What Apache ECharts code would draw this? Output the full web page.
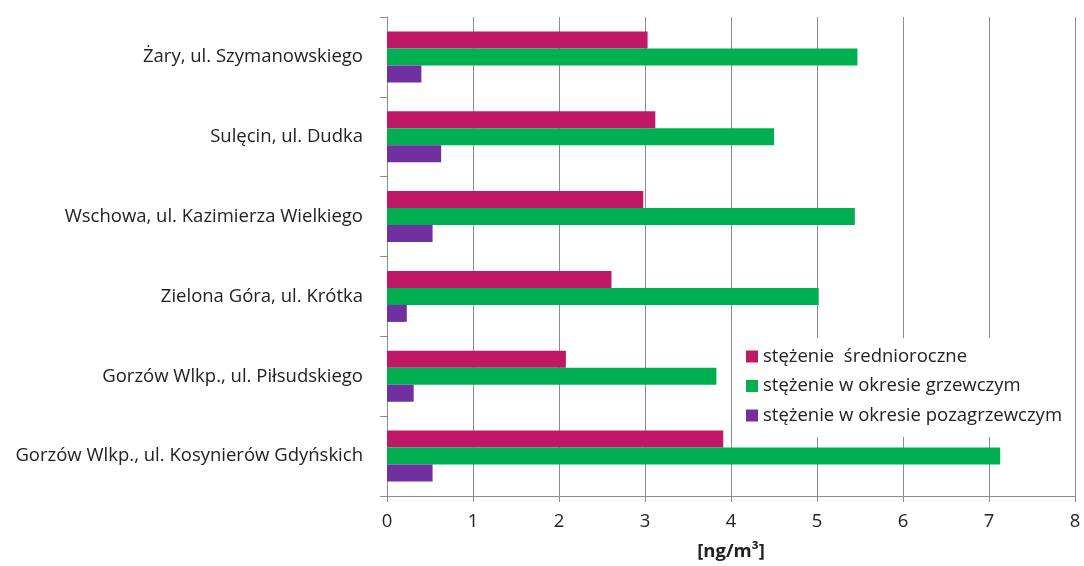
<!DOCTYPE html>
<html><head><meta charset="utf-8">
<script src="https://cdn.jsdelivr.net/npm/echarts@6/dist/echarts.min.js"></script>
<style>html,body{margin:0;padding:0;background:#fff}#c{width:1084px;height:566px}</style>
</head><body><div id="c"></div>
<script>
const categories = [
  'Gorzów Wlkp., ul. Kosynierów Gdyńskich',
  'Gorzów Wlkp., ul. Piłsudskiego',
  'Zielona Góra, ul. Krótka',
  'Wschowa, ul. Kazimierza Wielkiego',
  'Sulęcin, ul. Dudka',
  'Żary, ul. Szymanowskiego'
];
const seriesNames = ['stężenie  średnioroczne', 'stężenie w okresie grzewczym', 'stężenie w okresie pozagrzewczym'];
const annual = [3.91, 2.08, 2.61, 2.98, 3.12, 3.03];
const heating = [7.13, 3.83, 5.02, 5.44, 4.50, 5.47];
const nonHeating = [0.53, 0.31, 0.23, 0.53, 0.63, 0.40];
const xTicks = [0, 1, 2, 3, 4, 5, 6, 7, 8];
const colors = ['#BE1867', '#00B050', '#7030A0'];

const FONT = '"Open Sans", sans-serif';
const FS = 18.5;
const chart = echarts.init(document.getElementById('c'));
const values = [annual, heating, nonHeating];
chart.setOption({
  animation: false,
  textStyle: { fontFamily: FONT },
  grid: { left: 387, right: 1084 - 1075, top: 17, bottom: 566 - 496, containLabel: false },
  legend: {
    data: seriesNames,
    orient: 'vertical',
    left: 734, top: 338,
    itemWidth: 12, itemHeight: 12, itemGap: 10.5,
    icon: 'rect',
    backgroundColor: '#fff',
    padding: [9, 8, 12, 12],
    textStyle: { fontSize: FS, color: '#222', fontFamily: FONT }
  },
  xAxis: {
    type: 'value', min: xTicks[0], max: xTicks[xTicks.length - 1], interval: 1,
    name: '[ng/m³]', nameLocation: 'middle', nameGap: 46,
    nameTextStyle: { fontSize: FS, fontWeight: 'bold', color: '#222', fontFamily: FONT },
    axisLine: { show: true, lineStyle: { color: '#8c8c8c' } },
    axisTick: { show: true, length: 6, lineStyle: { color: '#8c8c8c' } },
    axisLabel: { fontSize: FS, color: '#222', margin: 16, fontFamily: FONT },
    splitLine: { show: true, lineStyle: { color: '#8c8c8c' } }
  },
  yAxis: {
    type: 'category', data: categories,
    axisLine: { show: true, lineStyle: { color: '#8c8c8c' } },
    axisTick: { show: true, length: 7, lineStyle: { color: '#8c8c8c' } },
    axisLabel: { fontSize: FS, color: '#222', margin: 24, fontFamily: FONT },
    splitLine: { show: false }
  },
  series: seriesNames.map((n, i) => ({
    name: n, type: 'bar', data: values[i], barWidth: 17, barGap: '0%',
    itemStyle: { color: colors[i] }
  }))
});
</script></body></html>
